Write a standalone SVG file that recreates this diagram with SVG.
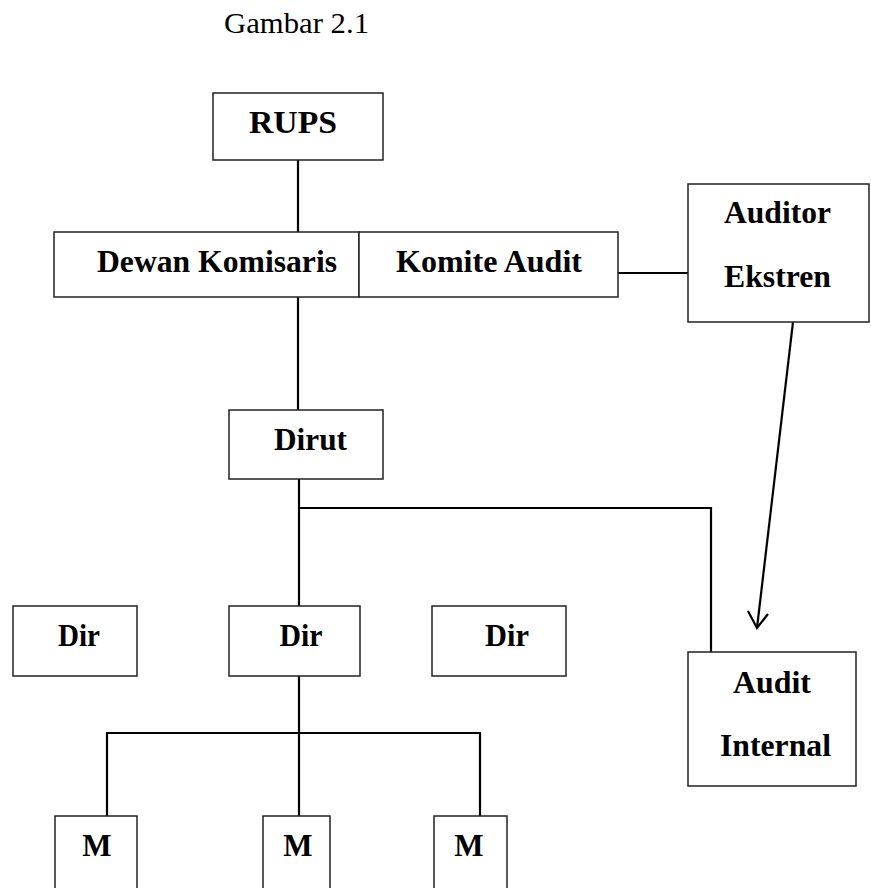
<svg xmlns="http://www.w3.org/2000/svg" width="871" height="888" viewBox="0 0 871 888">
<style>
.box{fill:#fff;stroke:#222;stroke-width:1.5}
.t{font-family:"Liberation Serif","Times New Roman",serif;font-weight:bold;font-size:31px;fill:#000;text-anchor:middle}
.ln{fill:none;stroke:#000;stroke-width:2.2}
</style>
<rect width="871" height="888" fill="#fff"/>
<text x="296.5" y="33" font-family="Liberation Serif, Times New Roman, serif" font-size="30" text-anchor="middle" textLength="145" lengthAdjust="spacingAndGlyphs">Gambar 2.1</text>
<g id="connectors">
<line class="ln" x1="298" y1="160" x2="298" y2="232"/>
<line class="ln" x1="298" y1="297" x2="298" y2="410"/>
<line class="ln" x1="618" y1="273" x2="688" y2="273"/>
<line class="ln" x1="299" y1="479" x2="299" y2="606"/>
<polyline class="ln" points="299,508 711,508 711,652"/>
<line class="ln" x1="793" y1="322" x2="757" y2="628"/>
<polyline class="ln" points="748,611 757,628 768,614"/>
<line class="ln" x1="299" y1="676" x2="299" y2="816"/>
<polyline class="ln" points="107,816 107,733 480,733 480,816"/>
</g>
<g id="rups"><rect class="box" x="213" y="93" width="170" height="67"/><text class="t" x="293" y="133" textLength="88" lengthAdjust="spacingAndGlyphs">RUPS</text></g>
<g id="dewan"><rect class="box" x="54" y="232" width="305" height="65"/><text class="t" x="217" y="272" textLength="240" lengthAdjust="spacingAndGlyphs">Dewan Komisaris</text></g>
<g id="komite"><rect class="box" x="359" y="232" width="259" height="65"/><text class="t" x="489" y="272" textLength="186" lengthAdjust="spacingAndGlyphs">Komite Audit</text></g>
<g id="auditor"><rect class="box" x="688" y="184" width="181" height="138"/><text class="t" x="777.5" y="223" textLength="107" lengthAdjust="spacingAndGlyphs">Auditor</text><text class="t" x="777.5" y="287" textLength="107" lengthAdjust="spacingAndGlyphs">Ekstren</text></g>
<g id="dirut"><rect class="box" x="229" y="410" width="154" height="69"/><text class="t" x="310.5" y="450" textLength="73" lengthAdjust="spacingAndGlyphs">Dirut</text></g>
<g id="dir1"><rect class="box" x="13" y="606" width="124" height="70"/><text class="t" x="79" y="646" textLength="42" lengthAdjust="spacingAndGlyphs">Dir</text></g>
<g id="dir2"><rect class="box" x="229" y="606" width="131" height="70"/><text class="t" x="301" y="646" textLength="43" lengthAdjust="spacingAndGlyphs">Dir</text></g>
<g id="dir3"><rect class="box" x="432" y="606" width="134" height="70"/><text class="t" x="507" y="646" textLength="44" lengthAdjust="spacingAndGlyphs">Dir</text></g>
<g id="auditinternal"><rect class="box" x="688" y="652" width="168" height="134"/><text class="t" x="772" y="693" textLength="78" lengthAdjust="spacingAndGlyphs">Audit</text><text class="t" x="775.5" y="756" textLength="111" lengthAdjust="spacingAndGlyphs">Internal</text></g>
<g id="m1"><rect class="box" x="55" y="816" width="82" height="80"/><text class="t" x="97" y="856">M</text></g>
<g id="m2"><rect class="box" x="263" y="816" width="67" height="80"/><text class="t" x="298" y="856">M</text></g>
<g id="m3"><rect class="box" x="434" y="816" width="73" height="80"/><text class="t" x="469" y="856">M</text></g>
</svg>
